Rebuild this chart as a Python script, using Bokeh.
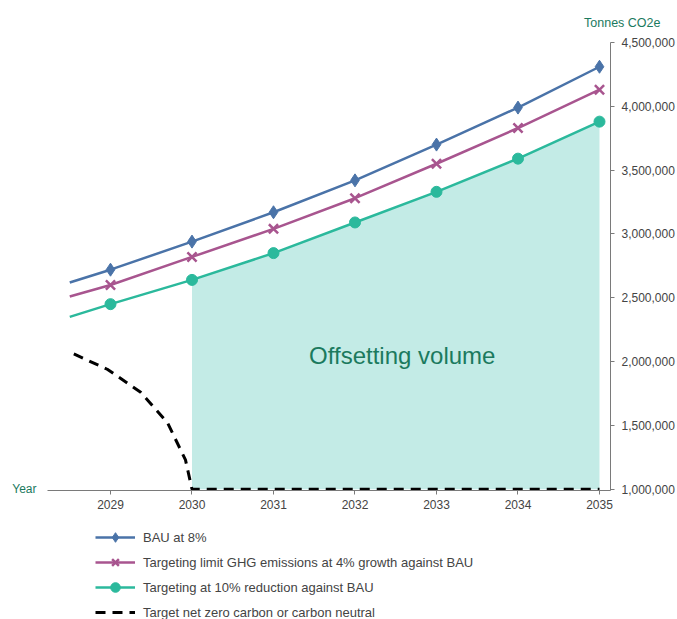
from bokeh.plotting import figure
from bokeh.layouts import column
from bokeh.models import (Range1d, FixedTicker, NumeralTickFormatter, Legend,
                          LegendItem, Label, LinearAxis, Title)
from bokeh.embed import file_html
from bokeh.resources import INLINE

# Emission pathways (tonnes CO2e); first point is the half-year lead-in
years = [2028.5, 2029, 2030, 2031, 2032, 2033, 2034, 2035]
marker_years = [2029, 2030, 2031, 2032, 2033, 2034, 2035]
bau = [2620000, 2720000, 2940000, 3170000, 3420000, 3700000, 3990000, 4310000]
limit_4pct = [2510000, 2600000, 2820000, 3040000, 3280000, 3550000, 3830000, 4130000]
reduce_10pct = [2350000, 2450000, 2640000, 2850000, 3090000, 3330000, 3590000, 3880000]

# Net-zero target path
nz_years = [2028.55, 2028.96, 2029.37, 2029.70, 2029.92, 2030, 2035]
nz_values = [2060000, 1940000, 1760000, 1520000, 1230000, 1000000, 1000000]

# Offsetting area: 2030 onward, between the floor and the 10% reduction path
offset_years = [2030, 2031, 2032, 2033, 2034, 2035]
offset_floor = [1000000] * 6
offset_top = reduce_10pct[2:]

x_ticks = [2029, 2030, 2031, 2032, 2033, 2034, 2035]
y_ticks = [1000000, 1500000, 2000000, 2500000, 3000000, 3500000, 4000000, 4500000]

series_labels = ["BAU at 8%",
                 "Targeting limit GHG emissions at 4% growth against BAU",
                 "Targeting at 10% reduction against BAU",
                 "Target net zero carbon or carbon neutral"]

BLUE = "#4a73a8"
PURPLE = "#a8558f"
TEAL = "#2bb99c"
FILL = "#c3ebe6"
GREEN_TEXT = "#1b7a5e"
AXIS_GREY = "#7a7a7a"
FONT = "Liberation Sans"

LINE_STYLES = [dict(line_color=BLUE, line_width=2.5),
               dict(line_color=PURPLE, line_width=2.5),
               dict(line_color=TEAL, line_width=2.5),
               dict(line_color="black", line_width=3, line_dash="10 7")]
MARKER_STYLES = [dict(marker="diamond", size=13, fill_color=BLUE, line_color=BLUE),
                 dict(marker="x", size=13, line_color=PURPLE, line_width=2.5),
                 dict(marker="circle", size=11, fill_color=TEAL, line_color=TEAL)]

p = figure(width=677, height=517, output_backend="svg", toolbar_location=None,
           x_range=Range1d(2028.227, 2035.135), y_range=Range1d(990000, 4500000),
           y_axis_location="right",
           min_border_left=47, min_border_right=67, min_border_top=42,
           min_border_bottom=27)
p.outline_line_color = None
p.xgrid.visible = False
p.ygrid.visible = False
p.background_fill_color = "white"
p.border_fill_color = "white"

p.varea(x=offset_years, y1=offset_floor, y2=offset_top, fill_color=FILL)

for ys, ls, ms in zip([bau, limit_4pct, reduce_10pct], LINE_STYLES, MARKER_STYLES):
    p.line(years, ys, **ls)
    p.scatter(marker_years, ys[1:], **ms)
p.line(nz_years, nz_values, **LINE_STYLES[3])

# Axes
for ax in (p.xaxis[0], p.yaxis[0]):
    ax.axis_line_color = AXIS_GREY
    ax.major_tick_line_color = AXIS_GREY
    ax.minor_tick_line_color = None
    ax.major_label_text_font = FONT
    ax.major_label_text_color = "#444444"
    ax.major_label_text_font_size = "12px"

p.xaxis.ticker = FixedTicker(ticks=x_ticks)
p.xaxis.major_tick_in = 0
p.xaxis.major_tick_out = 4
p.xaxis.major_label_standoff = 5

p.yaxis.ticker = FixedTicker(ticks=y_ticks)
p.yaxis.formatter = NumeralTickFormatter(format="0,0")
p.yaxis.major_tick_in = 0
p.yaxis.major_tick_out = 4
p.yaxis.major_label_standoff = 7

# "Year" caption sits left of the x axis line, at the axis baseline
year_axis = LinearAxis(ticker=FixedTicker(ticks=[1000000]),
                       major_label_overrides={1000000: "Year"},
                       axis_line_color=None, major_tick_line_color=None,
                       minor_tick_line_color=None, major_label_standoff=5,
                       major_label_text_font=FONT,
                       major_label_text_font_size="12px",
                       major_label_text_color=GREEN_TEXT)
p.add_layout(year_axis, "left")

# Unit caption above the value axis
p.add_layout(Title(text="Tonnes CO2e", align="right", offset=-50, standoff=25,
                   text_font=FONT, text_font_size="12.5px",
                   text_font_style="normal", text_color=GREEN_TEXT), "above")

p.add_layout(Label(x=2032.58, y=2050000, text="Offsetting volume",
                   text_align="center", text_baseline="middle",
                   text_font=FONT, text_font_size="24px",
                   text_color=GREEN_TEXT))

# Legend strip under the chart; its key renderers sit off-range so only
# the legend glyphs show
lg = figure(width=677, height=102, output_backend="svg", toolbar_location=None,
            x_range=Range1d(0, 1), y_range=Range1d(0, 1),
            x_axis_location=None, y_axis_location=None,
            min_border=0, min_border_left=0, min_border_right=0,
            min_border_top=0, min_border_bottom=0)
lg.outline_line_color = None
lg.xgrid.visible = False
lg.ygrid.visible = False
lg.border_fill_color = "white"

items = []
for i, label in enumerate(series_labels):
    rs = [lg.line([-10, -9], [-10, -9], **LINE_STYLES[i])]
    if i < len(MARKER_STYLES):
        rs.append(lg.scatter([-10], [-10], **MARKER_STYLES[i]))
    items.append(LegendItem(label=label, renderers=rs))

legend = Legend(items=items, location=(48, -5), orientation="vertical")
legend.padding = 0
legend.margin = 0
legend.spacing = 1
legend.glyph_width = 40
legend.glyph_height = 24
legend.label_height = 24
legend.label_standoff = 8
legend.label_text_font = FONT
legend.label_text_font_size = "13px"
legend.label_text_color = "#444444"
legend.border_line_alpha = 0
legend.background_fill_alpha = 0
lg.add_layout(legend)

layout = column(p, lg, spacing=0)
open("out.html", "w").write(file_html(layout, INLINE))
